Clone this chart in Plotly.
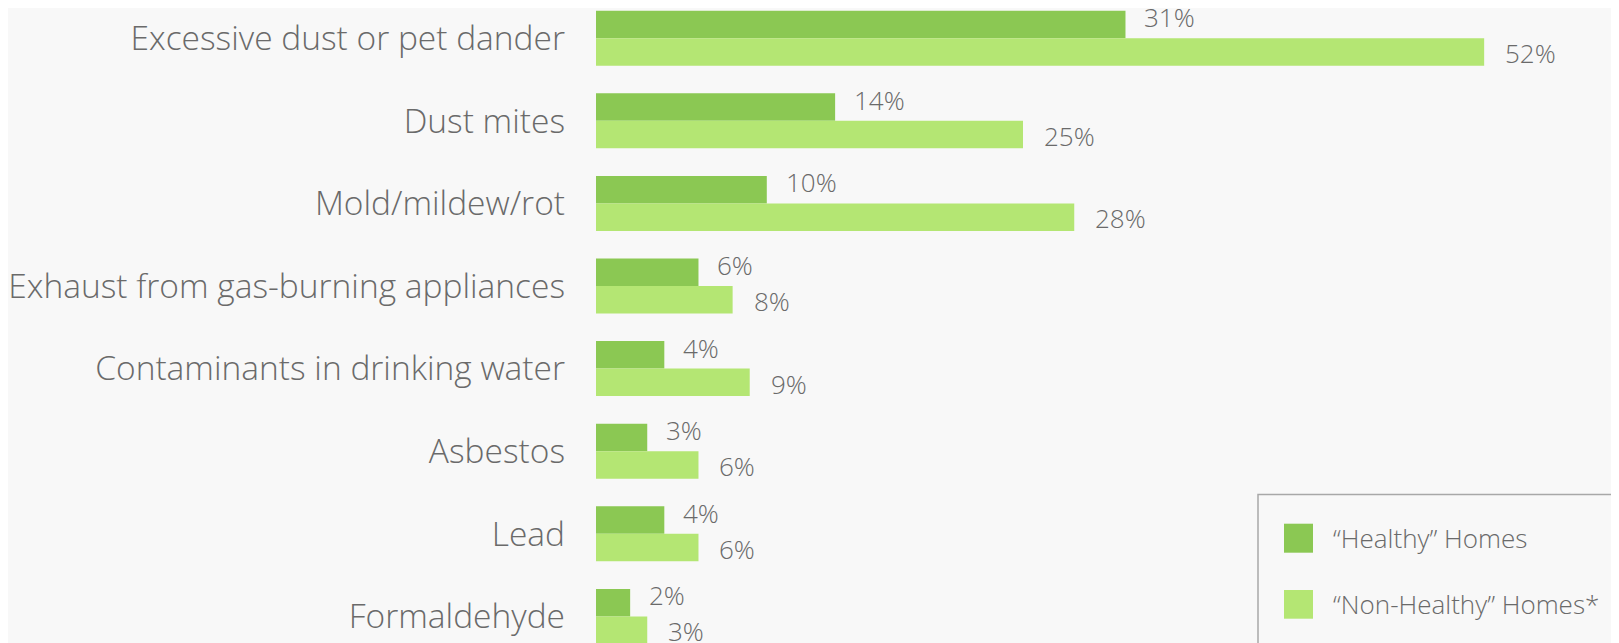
import plotly.graph_objects as go

categories = [
    "Excessive dust or pet dander",
    "Dust mites",
    "Mold/mildew/rot",
    "Exhaust from gas-burning appliances",
    "Contaminants in drinking water",
    "Asbestos",
    "Lead",
    "Formaldehyde",
]
healthy = [31, 14, 10, 6, 4, 3, 4, 2]
non_healthy = [52, 25, 28, 8, 9, 6, 6, 3]
series_names = ["\u201cHealthy\u201d Homes", "\u201cNon-Healthy\u201d Homes*"]

DARK = "#8BC853"
LIGHT = "#B4E673"
TEXT = "#6a6a6a"
BG = "#F8F8F8"
FONT = "Open Sans"

OFF = 8  # page body margin
W, H = 1619 - OFF, 643 - OFF
L_MARGIN = 596 - OFF
PX_PER_PCT = 17.08
CAT_STEP = 82.6
FIRST_CENTER = 38.2 - OFF

fig = go.Figure()
fig.add_trace(go.Bar(y=categories, x=healthy, orientation="h", name=series_names[0],
                     marker=dict(color=DARK, line=dict(width=0)), showlegend=False))
fig.add_trace(go.Bar(y=categories, x=non_healthy, orientation="h", name=series_names[1],
                     marker=dict(color=LIGHT, line=dict(width=0)), showlegend=False))

annotations = []
for cat, v in zip(categories, healthy):
    annotations.append(dict(x=v, y=cat, xref="x", yref="y", text=f"{v}%", showarrow=False,
                            xanchor="left", yanchor="middle", xshift=17, yshift=21,
                            font=dict(family=FONT, size=26, color=TEXT, weight=300)))
for cat, v in zip(categories, non_healthy):
    annotations.append(dict(x=v, y=cat, xref="x", yref="y", text=f"{v}%", showarrow=False,
                            xanchor="left", yanchor="middle", xshift=19, yshift=-15,
                            font=dict(family=FONT, size=26, color=TEXT, weight=300)))

def px(xw):
    return (xw - OFF - L_MARGIN) / (W - L_MARGIN)

def py(yw):
    return 1 - (yw - OFF) / H

shapes = [
    dict(type="rect", xref="paper", yref="paper", x0=px(1258), x1=px(1660), y0=py(494.5), y1=py(700),
         line=dict(color="#a8a8a8", width=1.5), fillcolor="rgba(0,0,0,0)", layer="above"),
]
legend_rows = [(523.7, 552.7, DARK), (590.0, 618.7, LIGHT)]
for (t, b, c), name in zip(legend_rows, series_names):
    shapes.append(dict(type="rect", xref="paper", yref="paper", x0=px(1284), x1=px(1313),
                       y0=py(b), y1=py(t), fillcolor=c, line=dict(width=0), layer="above"))
    annotations.append(dict(x=px(1331), y=py((t + b) / 2), xref="paper", yref="paper", text=name,
                            showarrow=False, xanchor="left", yanchor="middle",
                            font=dict(family=FONT, size=26, color=TEXT, weight=300)))

fig.update_layout(
    width=W, height=H,
    margin=dict(l=L_MARGIN, r=0, t=0, b=0, autoexpand=False),
    paper_bgcolor=BG, plot_bgcolor=BG,
    barmode="group", bargap=0.334, bargroupgap=0,
    showlegend=False,
    xaxis=dict(range=[0, (W - L_MARGIN) / PX_PER_PCT], visible=False, showgrid=False,
               zeroline=False, automargin=False),
    yaxis=dict(type="category",
               range=[(H - FIRST_CENTER) / CAT_STEP, -FIRST_CENTER / CAT_STEP],
               showgrid=False, zeroline=False, showline=False, ticks="", ticklabelstandoff=30,
               automargin=False,
               tickfont=dict(family=FONT, size=33.5, color=TEXT, weight=300)),
    annotations=annotations,
    shapes=shapes,
)

fig.write_html("out.html")
